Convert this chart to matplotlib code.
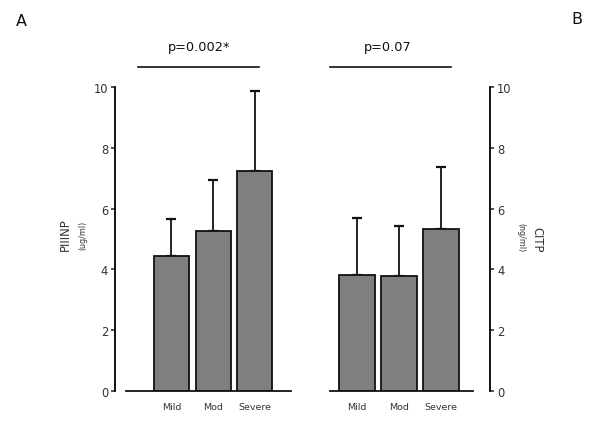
import numpy as np
import matplotlib
matplotlib.use('Agg')
import matplotlib.pyplot as plt
from matplotlib.lines import Line2D

groups = ['Mild', 'Mod', 'Severe']
piiinp_mean = [4.45, 5.27, 7.25]
piiinp_sd = [1.2, 1.68, 2.62]
citp_mean = [3.82, 3.78, 5.34]
citp_sd = [1.86, 1.64, 2.04]

W, H = 600, 431
fig = plt.figure(figsize=(6.0, 4.31), dpi=100)
bar_color = '#7f7f7f'
txt = '#333333'


def px(x0, y0, x1, y1):
    # pixel box -> figure fraction [left, bottom, width, height]
    return [x0 / W, 1 - y1 / H, (x1 - x0) / W, (y1 - y0) / H]


def panel(ax, means, sds, xlim, base_bounds, side):
    x = np.arange(len(groups))
    ax.bar(x, means, width=0.84, color=bar_color, edgecolor='#111111', linewidth=1.3, zorder=2)
    ax.errorbar(x, means, yerr=[np.zeros(len(sds)), sds], fmt='none', ecolor='#111111',
                elinewidth=1.3, capsize=3.3, capthick=1.6, zorder=1, clip_on=False)
    ax.set_xlim(*xlim)
    ax.set_ylim(0, 10)
    ax.set_xticks(x)
    ax.set_xticklabels(groups, fontsize=6.8, color=txt)
    ax.tick_params(axis='x', length=0, pad=8)
    ax.set_yticks([0, 2, 4, 6, 8, 10])
    ax.tick_params(axis='y', length=3, width=1.2, labelsize=8.3, colors=txt, pad=2)
    ax.spines['top'].set_visible(False)
    ax.spines['bottom'].set_bounds(*base_bounds)
    ax.spines['bottom'].set_linewidth(1.3)
    ax.spines['bottom'].set_color('#111111')
    if side == 'left':
        ax.spines['right'].set_visible(False)
        ax.spines['left'].set_linewidth(1.3)
    else:
        ax.spines['left'].set_visible(False)
        ax.spines['right'].set_linewidth(1.3)
        ax.yaxis.tick_right()
    for lab in ax.get_yticklabels():
        lab.set_color(txt)


axA = fig.add_axes(px(115, 88, 291, 392))
panel(axA, piiinp_mean, piiinp_sd, (-1.353, 2.87), (-1.09, 2.87), 'left')

axB = fig.add_axes(px(330, 88, 490, 392))
panel(axB, citp_mean, citp_sd, (-0.643, 3.17), (-0.643, 2.76), 'right')

# axis labels
fig.text(65 / W, 1 - 235 / H, 'PIIINP', rotation=90, fontsize=8.3, color=txt, ha='center', va='center')
fig.text(83 / W, 1 - 235 / H, '(ug/ml)', rotation=90, fontsize=5.8, color=txt, ha='center', va='center')
fig.text(537 / W, 1 - 240 / H, 'CITP', rotation=270, fontsize=8.3, color=txt, ha='center', va='center')
fig.text(521 / W, 1 - 238 / H, '(ng/ml)', rotation=270, fontsize=5.8, color=txt, ha='center', va='center')

# panel letters
fig.text(21 / W, 1 - 22 / H, 'A', fontsize=11.5, color='#111111', ha='center', va='center')
fig.text(577 / W, 1 - 20 / H, 'B', fontsize=11.5, color='#111111', ha='center', va='center')

# significance lines
fig.text(199 / W, 1 - 47 / H, 'p=0.002*', fontsize=9.3, color='#111111', ha='center', va='center')
fig.add_artist(Line2D([138 / W, 259 / W], [1 - 68 / H, 1 - 68 / H], color='#111111', lw=1.2))
fig.text(388 / W, 1 - 47 / H, 'p=0.07', fontsize=9.3, color='#111111', ha='center', va='center')
fig.add_artist(Line2D([330 / W, 451 / W], [1 - 68 / H, 1 - 68 / H], color='#111111', lw=1.2))

fig.savefig('out.png', dpi=100)
